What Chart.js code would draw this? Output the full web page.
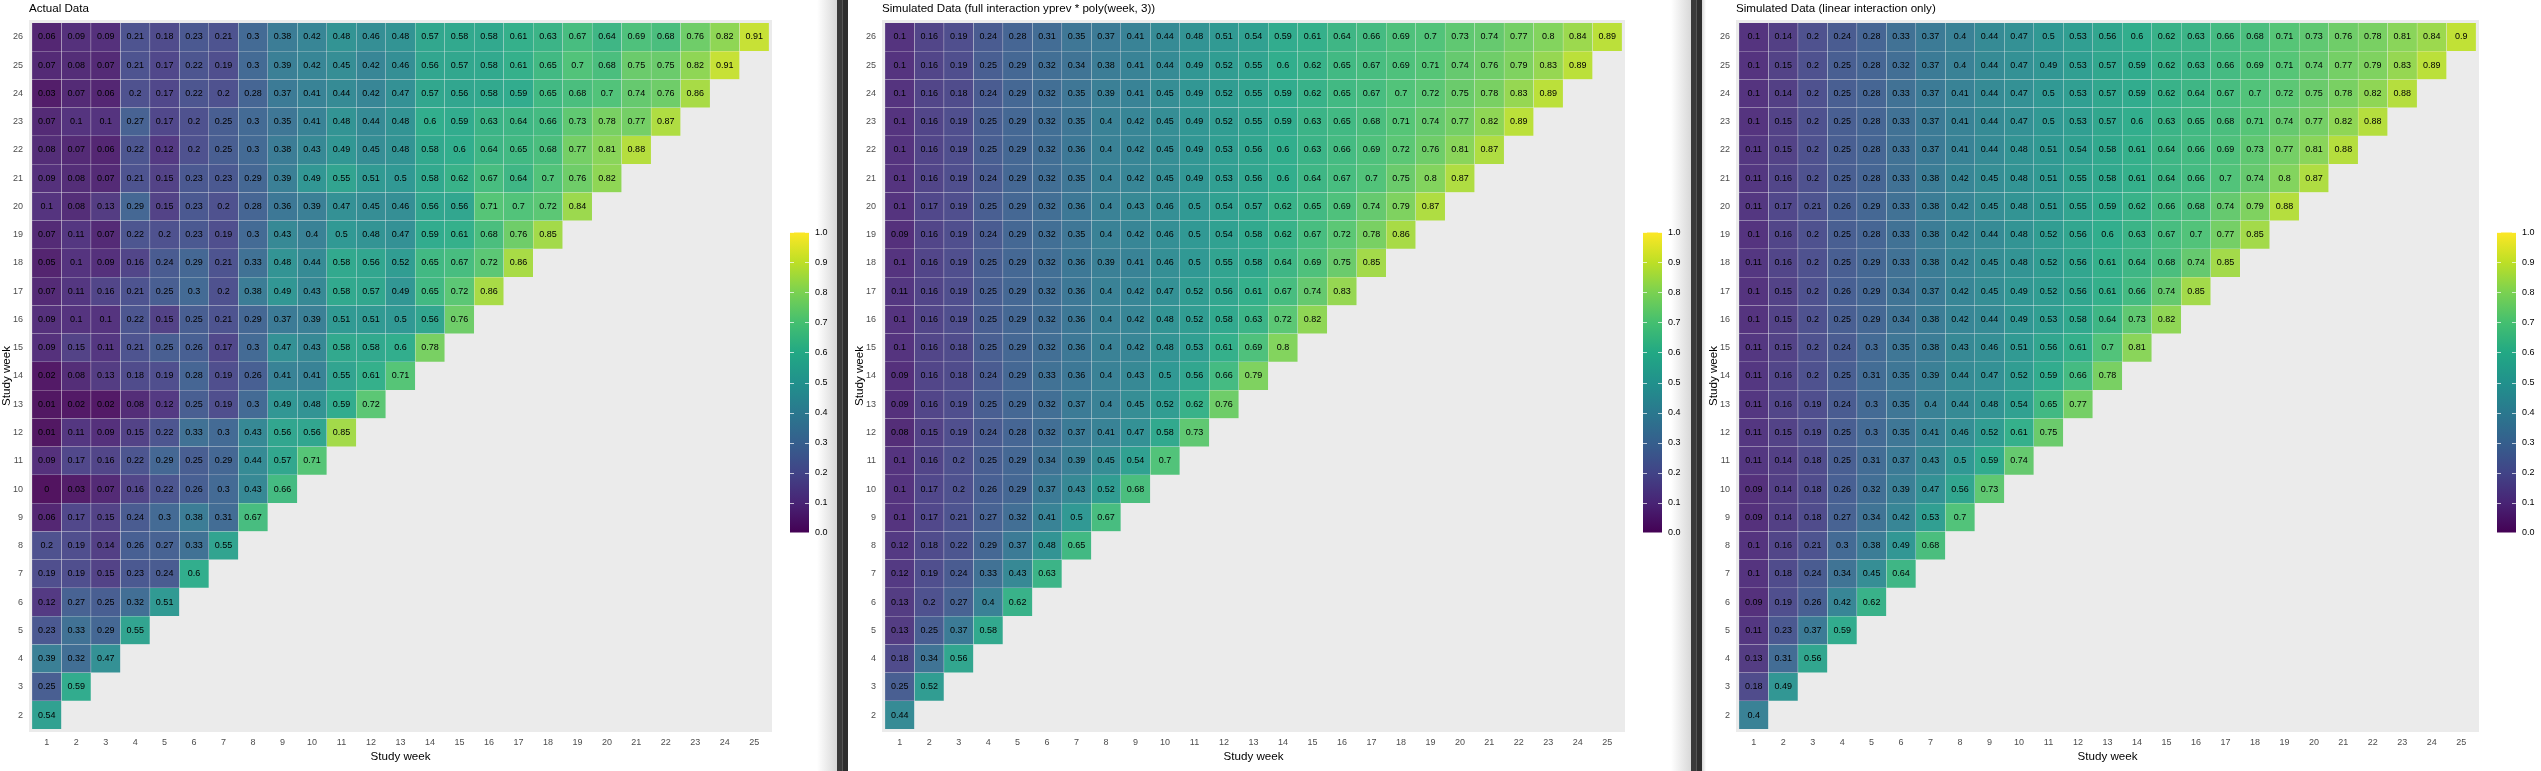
<!DOCTYPE html>
<html>
<head>
<meta charset="utf-8">
<script src="https://cdn.jsdelivr.net/npm/chart.js@4"></script>
<style>
html, body { margin: 0; padding: 0; background: #fff; width: 2541px; height: 771px; overflow: hidden; }
canvas { position: absolute; top: 0; }
.edge { position: absolute; top: 0; height: 771px; }
</style>
</head>
<body>
<div class="edge" style="left:817px;width:20px;background:linear-gradient(to right,#fff,#d8d8d8)"></div>
<div class="edge" style="left:837px;width:11px;background:linear-gradient(to right,#3a3a3a 45%,#555 50%,#2e2e2e 55%)"></div>
<div class="edge" style="left:1671px;width:20px;background:linear-gradient(to right,#fff,#d8d8d8)"></div>
<div class="edge" style="left:1691px;width:11px;background:linear-gradient(to right,#3a3a3a 45%,#555 50%,#2e2e2e 55%)"></div>
<div class="edge" style="left:1702px;width:4px;background:linear-gradient(to right,#d8d8d8,#fff)"></div>
<script>
// rows run from study week 26 down to study week 2, columns from week 1 up
const weekRows = [26,25,24,23,22,21,20,19,18,17,16,15,14,13,12,11,10,9,8,7,6,5,4,3,2];
const barTicks = [0,0.1,0.2,0.3,0.4,0.5,0.6,0.7,0.8,0.9,1];

const actualData = [
  [.06,.09,.09,.21,.18,.23,.21,.3,.38,.42,.48,.46,.48,.57,.58,.58,.61,.63,.67,.64,.69,.68,.76,.82,.91],
  [.07,.08,.07,.21,.17,.22,.19,.3,.39,.42,.45,.42,.46,.56,.57,.58,.61,.65,.7,.68,.75,.75,.82,.91],
  [.03,.07,.06,.2,.17,.22,.2,.28,.37,.41,.44,.42,.47,.57,.56,.58,.59,.65,.68,.7,.74,.76,.86],
  [.07,.1,.1,.27,.17,.2,.25,.3,.35,.41,.48,.44,.48,.6,.59,.63,.64,.66,.73,.78,.77,.87],
  [.08,.07,.06,.22,.12,.2,.25,.3,.38,.43,.49,.45,.48,.58,.6,.64,.65,.68,.77,.81,.88],
  [.09,.08,.07,.21,.15,.23,.23,.29,.39,.49,.55,.51,.5,.58,.62,.67,.64,.7,.76,.82],
  [.1,.08,.13,.29,.15,.23,.2,.28,.36,.39,.47,.45,.46,.56,.56,.71,.7,.72,.84],
  [.07,.11,.07,.22,.2,.23,.19,.3,.43,.4,.5,.48,.47,.59,.61,.68,.76,.85],
  [.05,.1,.09,.16,.24,.29,.21,.33,.48,.44,.58,.56,.52,.65,.67,.72,.86],
  [.07,.11,.16,.21,.25,.3,.2,.38,.49,.43,.58,.57,.49,.65,.72,.86],
  [.09,.1,.1,.22,.15,.25,.21,.29,.37,.39,.51,.51,.5,.56,.76],
  [.09,.15,.11,.21,.25,.26,.17,.3,.47,.43,.58,.58,.6,.78],
  [.02,.08,.13,.18,.19,.28,.19,.26,.41,.41,.55,.61,.71],
  [.01,.02,.02,.08,.12,.25,.19,.3,.49,.48,.59,.72],
  [.01,.11,.09,.15,.22,.33,.3,.43,.56,.56,.85],
  [.09,.17,.16,.22,.29,.25,.29,.44,.57,.71],
  [0,.03,.07,.16,.22,.26,.3,.43,.66],
  [.06,.17,.15,.24,.3,.38,.31,.67],
  [.2,.19,.14,.26,.27,.33,.55],
  [.19,.19,.15,.23,.24,.6],
  [.12,.27,.25,.32,.51],
  [.23,.33,.29,.55],
  [.39,.32,.47],
  [.25,.59],
  [.54]
];

const fullInteraction = [
  [.1,.16,.19,.24,.28,.31,.35,.37,.41,.44,.48,.51,.54,.59,.61,.64,.66,.69,.7,.73,.74,.77,.8,.84,.89],
  [.1,.16,.19,.25,.29,.32,.34,.38,.41,.44,.49,.52,.55,.6,.62,.65,.67,.69,.71,.74,.76,.79,.83,.89],
  [.1,.16,.18,.24,.29,.32,.35,.39,.41,.45,.49,.52,.55,.59,.62,.65,.67,.7,.72,.75,.78,.83,.89],
  [.1,.16,.19,.25,.29,.32,.35,.4,.42,.45,.49,.52,.55,.59,.63,.65,.68,.71,.74,.77,.82,.89],
  [.1,.16,.19,.25,.29,.32,.36,.4,.42,.45,.49,.53,.56,.6,.63,.66,.69,.72,.76,.81,.87],
  [.1,.16,.19,.24,.29,.32,.35,.4,.42,.45,.49,.53,.56,.6,.64,.67,.7,.75,.8,.87],
  [.1,.17,.19,.25,.29,.32,.36,.4,.43,.46,.5,.54,.57,.62,.65,.69,.74,.79,.87],
  [.09,.16,.19,.24,.29,.32,.35,.4,.42,.46,.5,.54,.58,.62,.67,.72,.78,.86],
  [.1,.16,.19,.25,.29,.32,.36,.39,.41,.46,.5,.55,.58,.64,.69,.75,.85],
  [.11,.16,.19,.25,.29,.32,.36,.4,.42,.47,.52,.56,.61,.67,.74,.83],
  [.1,.16,.19,.25,.29,.32,.36,.4,.42,.48,.52,.58,.63,.72,.82],
  [.1,.16,.18,.25,.29,.32,.36,.4,.42,.48,.53,.61,.69,.8],
  [.09,.16,.18,.24,.29,.33,.36,.4,.43,.5,.56,.66,.79],
  [.09,.16,.19,.25,.29,.32,.37,.4,.45,.52,.62,.76],
  [.08,.15,.19,.24,.28,.32,.37,.41,.47,.58,.73],
  [.1,.16,.2,.25,.29,.34,.39,.45,.54,.7],
  [.1,.17,.2,.26,.29,.37,.43,.52,.68],
  [.1,.17,.21,.27,.32,.41,.5,.67],
  [.12,.18,.22,.29,.37,.48,.65],
  [.12,.19,.24,.33,.43,.63],
  [.13,.2,.27,.4,.62],
  [.13,.25,.37,.58],
  [.18,.34,.56],
  [.25,.52],
  [.44]
];

const linearInteraction = [
  [.1,.14,.2,.24,.28,.33,.37,.4,.44,.47,.5,.53,.56,.6,.62,.63,.66,.68,.71,.73,.76,.78,.81,.84,.9],
  [.1,.15,.2,.25,.28,.32,.37,.4,.44,.47,.49,.53,.57,.59,.62,.63,.66,.69,.71,.74,.77,.79,.83,.89],
  [.1,.14,.2,.25,.28,.33,.37,.41,.44,.47,.5,.53,.57,.59,.62,.64,.67,.7,.72,.75,.78,.82,.88],
  [.1,.15,.2,.25,.28,.33,.37,.41,.44,.47,.5,.53,.57,.6,.63,.65,.68,.71,.74,.77,.82,.88],
  [.11,.15,.2,.25,.28,.33,.37,.41,.44,.48,.51,.54,.58,.61,.64,.66,.69,.73,.77,.81,.88],
  [.11,.16,.2,.25,.28,.33,.38,.42,.45,.48,.51,.55,.58,.61,.64,.66,.7,.74,.8,.87],
  [.11,.17,.21,.26,.29,.33,.38,.42,.45,.48,.51,.55,.59,.62,.66,.68,.74,.79,.88],
  [.1,.16,.2,.25,.28,.33,.38,.42,.44,.48,.52,.56,.6,.63,.67,.7,.77,.85],
  [.11,.16,.2,.25,.29,.33,.38,.42,.45,.48,.52,.56,.61,.64,.68,.74,.85],
  [.1,.15,.2,.26,.29,.34,.37,.42,.45,.49,.52,.56,.61,.66,.74,.85],
  [.1,.15,.2,.25,.29,.34,.38,.42,.44,.49,.53,.58,.64,.73,.82],
  [.11,.15,.2,.24,.3,.35,.38,.43,.46,.51,.56,.61,.7,.81],
  [.11,.16,.2,.25,.31,.35,.39,.44,.47,.52,.59,.66,.78],
  [.11,.16,.19,.24,.3,.35,.4,.44,.48,.54,.65,.77],
  [.11,.15,.19,.25,.3,.35,.41,.46,.52,.61,.75],
  [.11,.14,.18,.25,.31,.37,.43,.5,.59,.74],
  [.09,.14,.18,.26,.32,.39,.47,.56,.73],
  [.09,.14,.18,.27,.34,.42,.53,.7],
  [.1,.16,.21,.3,.38,.49,.68],
  [.1,.18,.24,.34,.45,.64],
  [.09,.19,.26,.42,.62],
  [.11,.23,.37,.59],
  [.13,.31,.56],
  [.18,.49],
  [.4]
];

const viridis = [[68,1,84],[72,36,117],[65,68,135],[53,95,141],[42,120,142],[33,145,140],[34,168,132],[68,191,112],[122,209,81],[189,223,38],[253,231,37]];
const FONT = '"Liberation Sans", Arial, sans-serif';
const CELL_ALPHA = 0.92;

function colorFor(v, alpha) {
  const p = Math.min(v * 10, 9.999), i = Math.floor(p), t = p - i;
  const c = viridis[i].map((a, k) => Math.round(a + (viridis[i + 1][k] - a) * t));
  return `rgba(${c[0]},${c[1]},${c[2]},${alpha})`;
}

// cell text, placed on the bars the library has laid out
const cellLabels = {
  id: 'cellLabels',
  afterDatasetsDraw(chart) {
    const ctx = chart.ctx;
    ctx.save();
    ctx.font = '9px ' + FONT;
    ctx.fillStyle = '#000';
    ctx.textAlign = 'center';
    ctx.textBaseline = 'middle';
    chart.data.datasets.forEach((ds, d) => {
      chart.getDatasetMeta(d).data.forEach((bar, i) => {
        const pt = bar.getCenterPoint();
        ctx.fillText(String(ds.values[i]), pt.x, pt.y);
      });
    });
    ctx.restore();
  }
};

const panelBackground = {
  id: 'panelBackground',
  beforeDraw(chart) {
    const a = chart.chartArea;
    chart.ctx.fillStyle = '#ebebeb';
    chart.ctx.fillRect(a.left, a.top, a.right - a.left, a.bottom - a.top);
  }
};

const barMarks = {
  id: 'barMarks',
  afterDatasetsDraw(chart) {
    const ctx = chart.ctx, a = chart.chartArea, y = chart.scales.y;
    ctx.save();
    ctx.strokeStyle = 'rgba(255,255,255,0.7)';
    barTicks.forEach(t => {
      const py = Math.round(y.getPixelForValue(t)) + 0.5;
      ctx.beginPath();
      ctx.moveTo(a.left, py); ctx.lineTo(a.left + 4, py);
      ctx.moveTo(a.right - 4, py); ctx.lineTo(a.right, py);
      ctx.stroke();
    });
    ctx.restore();
  }
};

function makeCanvas(left, top, w, h) {
  const c = document.createElement('canvas');
  c.width = w; c.height = h;
  c.style.left = left + 'px';
  c.style.top = top + 'px';
  document.body.appendChild(c);
  return c;
}

function drawPanel(left, title, rows) {
  const datasets = rows.map((row, r) => ({
    data: row.map((v, c) => ({ x: c + 1, y: [weekRows[r] - 0.5, weekRows[r] + 0.5] })),
    values: row,
    backgroundColor: row.map(v => colorFor(v, CELL_ALPHA)),
    borderColor: 'rgba(255,255,255,0.2)',
    borderWidth: 0.5,
    borderSkipped: false,
    grouped: false,
    barPercentage: 1,
    categoryPercentage: 1
  }));
  new Chart(makeCanvas(left, 0, 772, 771), {
    type: 'bar',
    data: { datasets },
    plugins: [panelBackground, cellLabels],
    options: {
      responsive: false,
      animation: false,
      devicePixelRatio: 1,
      events: [],
      layout: { padding: 0 },
      plugins: {
        legend: { display: false },
        tooltip: { enabled: false },
        title: {
          display: true, text: title, align: 'start', fullSize: false, color: '#000',
          font: { family: FONT, size: 11.6, weight: 'normal', lineHeight: 1.2 },
          padding: { top: 1.5, bottom: 4.58 }
        }
      },
      scales: {
        x: {
          type: 'linear', min: 0.4, max: 25.6, offset: false,
          afterFit(s) { s.height = 39; },
          grid: { display: false, drawTicks: false },
          border: { display: false },
          ticks: { stepSize: 1, includeBounds: false, autoSkip: false, maxRotation: 0, padding: 5, color: '#4d4d4d', font: { family: FONT, size: 9 }, callback: v => String(v) },
          title: { display: true, text: 'Study week', color: '#000', font: { family: FONT, size: 11.6 }, padding: { top: 0, bottom: 7 } }
        },
        y: {
          min: 1.4, max: 26.6,
          afterFit(s) { s.width = 29; },
          grid: { display: false, drawTicks: false },
          border: { display: false },
          ticks: { stepSize: 1, includeBounds: false, autoSkip: false, padding: 6, color: '#4d4d4d', font: { family: FONT, size: 9 }, callback: v => String(v) },
          title: { display: true, text: 'Study week', color: '#000', font: { family: FONT, size: 11.6 }, padding: { top: 0, bottom: 0 } }
        }
      }
    }
  });
}

function drawColorbar(left) {
  new Chart(makeCanvas(left, 221, 50, 323), {
    type: 'bar',
    data: {
      labels: ['value'],
      datasets: [{
        data: [[barTicks[0], barTicks[barTicks.length - 1]]],
        barPercentage: 1,
        categoryPercentage: 1,
        backgroundColor(ctx) {
          const a = ctx.chart.chartArea;
          if (!a) return '#888';
          const g = ctx.chart.ctx.createLinearGradient(0, a.bottom, 0, a.top);
          viridis.forEach((c, i) => g.addColorStop(i / 10, `rgb(${c.join(',')})`));
          return g;
        }
      }]
    },
    plugins: [barMarks],
    options: {
      responsive: false,
      animation: false,
      devicePixelRatio: 1,
      events: [],
      layout: { padding: { top: 10, bottom: 10 } },
      plugins: { legend: { display: false }, tooltip: { enabled: false } },
      scales: {
        x: { display: false },
        y: {
          position: 'right', min: 0, max: 1,
          afterFit(s) { s.width = 31; },
          grid: { display: false, drawTicks: false },
          border: { display: false },
          ticks: { stepSize: 0.1, autoSkip: false, padding: 6, color: '#000', font: { family: FONT, size: 9 }, callback: v => v.toFixed(1) }
        }
      }
    }
  });
}

drawPanel(0, 'Actual Data', actualData);
drawPanel(853, 'Simulated Data (full interaction yprev * poly(week, 3))', fullInteraction);
drawPanel(1707, 'Simulated Data (linear interaction only)', linearInteraction);
drawColorbar(790);
drawColorbar(1643);
drawColorbar(2497);
</script>
</body>
</html>
